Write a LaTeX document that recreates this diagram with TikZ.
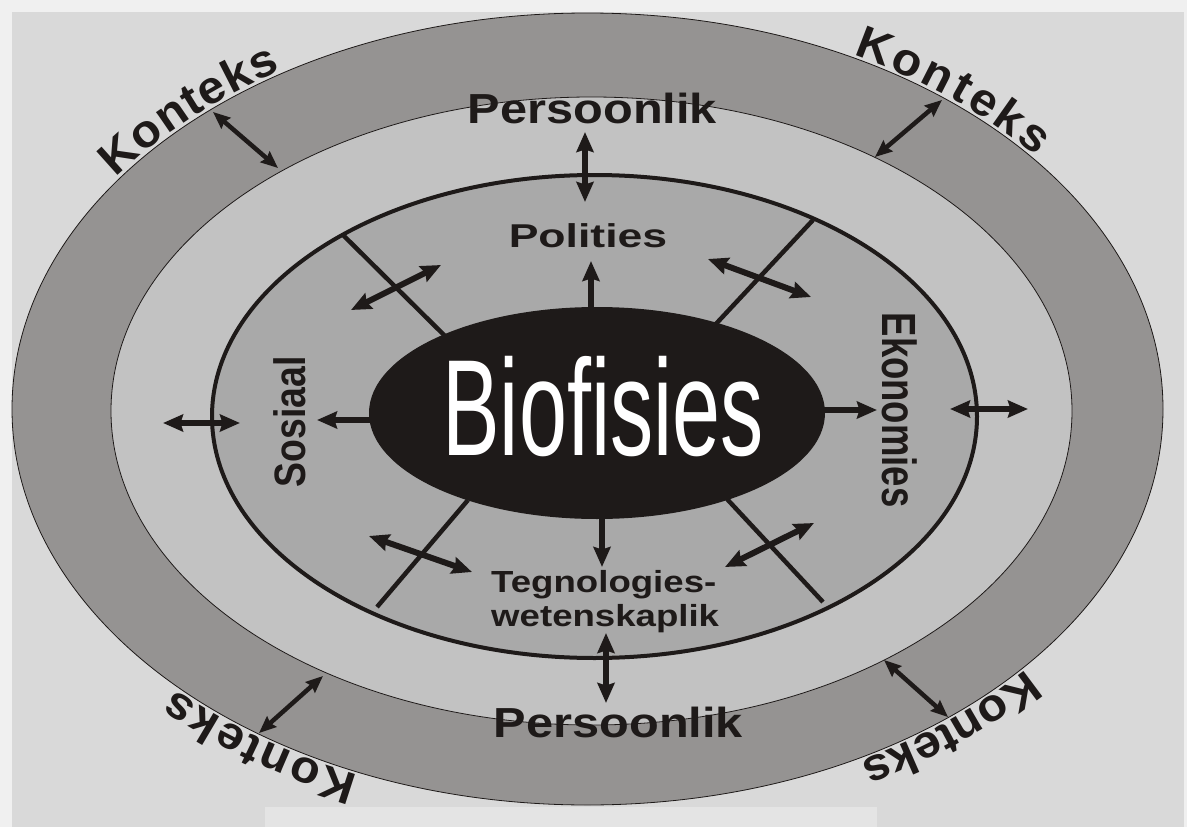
\documentclass[tikz,border=0pt]{standalone}
\usepackage{fontspec}
\setmainfont{Liberation Sans}
\newfontfamily\kfont[FakeStretch=1.05]{Liberation Sans}
\usetikzlibrary{arrows.meta,decorations.text,calc}
\definecolor{bgout}{HTML}{F0F0F0}
\definecolor{bgin}{HTML}{D9D9D9}
\definecolor{stripc}{HTML}{E4E4E4}
\definecolor{ringc}{HTML}{959392}
\definecolor{midc}{HTML}{C2C2C2}
\definecolor{innerc}{HTML}{A9A9A9}
\definecolor{ink}{HTML}{1E1A19}
\tikzset{
  bigtip/.tip={Stealth[length=20pt,width=17pt,inset=2.5pt]},
  smalltip/.tip={Stealth[length=17pt,width=14pt,inset=2pt]},
  twoway/.style={draw=ink,line width=6pt,{bigtip}-{bigtip}},
  oneway/.style={draw=ink,line width=6pt,-{bigtip}},
  ktwoway/.style={draw=ink,line width=4.5pt,{smalltip}-{smalltip}},
  radial/.style={draw=ink,line width=4.5pt},
  lbl/.style={text=ink,inner sep=0pt,font=\bfseries},
  ktext/.style={decorate,decoration={text along path,
      text={|\kfont\bfseries\fontsize{46}{46}\selectfont\color{ink}|Konteks},
      text align={fit to path}}}
}
\begin{document}
\begin{tikzpicture}[x=1pt,y=-1pt]
\useasboundingbox (0,0) rectangle (1187,827);
\fill[bgout] (0,0) rectangle (1187,827);
\fill[bgin] (12,12) rectangle (1184,827);
\fill[stripc] (265,807) rectangle (877,827);
% rings
\coordinate (C) at (587.5,409);
\filldraw[fill=ringc,draw=ink,line width=0.8pt] (C) ellipse [x radius=575.5pt,y radius=396pt];
\filldraw[fill=midc,draw=ink,line width=0.8pt] (591.5,411) ellipse [x radius=480.5pt,y radius=314pt];
\filldraw[fill=innerc,draw=ink,line width=4pt] (594.5,416.5) ellipse [x radius=382.5pt,y radius=241.5pt];
% radial dividers
\coordinate (r1a) at (343,235); \coordinate (r1b) at (445,336);
\coordinate (r2a) at (813,220); \coordinate (r2b) at (714,326);
\coordinate (r3a) at (377,607); \coordinate (r3b) at (468,500);
\coordinate (r4a) at (823,602); \coordinate (r4b) at (727,499);
\draw[radial] (r1a) -- (r1b);
\draw[radial] (r2a) -- (r2b);
\draw[radial] (r3a) -- (r3b);
\draw[radial] (r4a) -- (r4b);
% core
\fill[ink] (597,413) ellipse [x radius=228pt,y radius=106pt];
\node[text=white,inner sep=0pt,anchor=base,xscale=0.63,font=\fontsize{137}{137}\selectfont] (bio) at (603,455) {Biofisies};
% labels
\node[lbl,anchor=base,xscale=1.16,font=\bfseries\fontsize{42}{42}\selectfont] (pers1) at (592.5,123) {Persoonlik};
\node[lbl,anchor=base,xscale=1.16,font=\bfseries\fontsize{42}{42}\selectfont] (pers2) at (618.5,737) {Persoonlik};
\node[lbl,anchor=base,xscale=1.35,font=\bfseries\fontsize{33}{33}\selectfont] (pol) at (588,247) {Polities};
\node[lbl,anchor=base west,xscale=1.2,font=\bfseries\fontsize{30.5}{30.5}\selectfont] (teg1) at (491,592) {Tegnologies-};
\node[lbl,anchor=base west,xscale=1.2,font=\bfseries\fontsize{30.5}{30.5}\selectfont] (teg2) at (491,626) {wetenskaplik};
\node[lbl,rotate=90,xscale=0.85,font=\bfseries\fontsize{44}{44}\selectfont] (sos) at (290,422) {Sosiaal};
\node[lbl,rotate=-90,xscale=0.76,font=\bfseries\fontsize{48}{48}\selectfont] (eko) at (900,410) {Ekonomies};
% Konteks along the outer ring
\path[ktext] ($(C)+(144.5:579pt and 399pt)$) arc[start angle=144.5,end angle=122,x radius=579pt,y radius=399pt];
\path[ktext] ($(C)+(62.7:579pt and 399pt)$) arc[start angle=62.7,end angle=39.2,x radius=579pt,y radius=399pt];
\path[ktext] ($(C)+(-40.7:579pt and 399pt)$) arc[start angle=-40.7,end angle=-61.9,x radius=579pt,y radius=399pt];
\path[ktext] ($(C)+(-113.3:579pt and 399pt)$) arc[start angle=-113.3,end angle=-135.4,x radius=579pt,y radius=399pt];
% arrow end points
\coordinate (k1a) at (213,112); \coordinate (k1b) at (278,168);
\coordinate (k2a) at (942,100); \coordinate (k2b) at (875,157);
\coordinate (k3a) at (323,676); \coordinate (k3b) at (259,733);
\coordinate (k4a) at (884,660); \coordinate (k4b) at (948,717);
\coordinate (vta) at (585,132); \coordinate (vtb) at (585,202);
\coordinate (vba) at (606,633); \coordinate (vbb) at (606,703);
\coordinate (cpol) at (591,309); \coordinate (tpol) at (591,261);
\coordinate (cteg) at (602,517); \coordinate (tteg) at (602,567);
\coordinate (csos) at (372,420); \coordinate (tsos) at (317,420);
\coordinate (ceko) at (822,410); \coordinate (teko) at (877,410);
\coordinate (hla) at (163,423); \coordinate (hlb) at (240,423);
\coordinate (hra) at (950,409); \coordinate (hrb) at (1028,409);
\coordinate (d1a) at (351,310); \coordinate (d1b) at (441,265);
\coordinate (d2a) at (708,259); \coordinate (d2b) at (811,297);
\coordinate (d3a) at (369,536); \coordinate (d3b) at (472,572);
\coordinate (d4a) at (725,567); \coordinate (d4b) at (814,523);
\draw[ktwoway] (k1a) -- (k1b);
\draw[ktwoway] (k2a) -- (k2b);
\draw[ktwoway] (k3a) -- (k3b);
\draw[ktwoway] (k4a) -- (k4b);
\draw[twoway] (vta) -- (vtb);
\draw[twoway] (vba) -- (vbb);
\draw[oneway] (cpol) -- (tpol);
\draw[oneway] (cteg) -- (tteg);
\draw[oneway] (csos) -- (tsos);
\draw[oneway] (ceko) -- (teko);
\draw[twoway] (hla) -- (hlb);
\draw[twoway] (hra) -- (hrb);
\draw[twoway] (d1a) -- (d1b);
\draw[twoway] (d2a) -- (d2b);
\draw[twoway] (d3a) -- (d3b);
\draw[twoway] (d4a) -- (d4b);
\end{tikzpicture}
\end{document}
